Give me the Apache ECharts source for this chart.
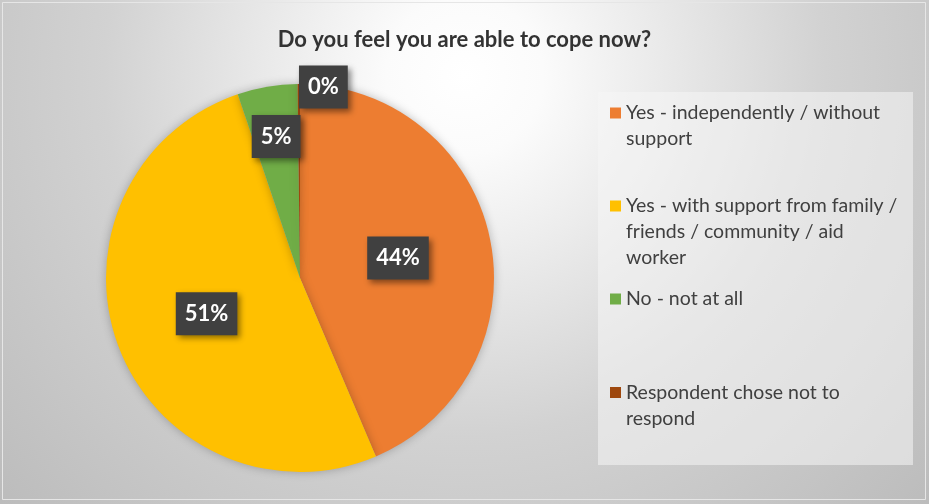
<!DOCTYPE html>
<html>
<head>
<meta charset="utf-8">
<script src="https://cdn.jsdelivr.net/npm/echarts@6/dist/echarts.min.js"></script>
<style>html,body{margin:0;padding:0;background:#fff}#c{width:929px;height:504px}</style>
</head>
<body>
<div id="c"></div>
<script>
var titleText = 'Do you feel you are able to cope now?';
var categories = [
  'Yes - independently / without support',
  'Yes - with support from family / friends / community / aid worker',
  'No - not at all',
  'Respondent chose not to respond'
];
// legend text broken into lines as in the reference
var legendLines = [
  ['Yes - independently / without', 'support'],
  ['Yes - with support from family /', 'friends / community / aid', 'worker'],
  ['No - not at all'],
  ['Respondent chose not to', 'respond']
];
var values = [43.6, 51.2, 5.0, 0.2];
var colors = ['#ED7D31', '#FFC000', '#70AD47', '#9E480E'];
// label nudges (px) for the two thin slices, as placed in the reference
var labelNudges = [[0, 0], [0, 0], [-7, -43], [24, -91]];
var legendFirstLineY = [113, 206, 299, 392.5];

var LH = 26;
var FONT = 'Lato, "Open Sans", sans-serif';

var chart = echarts.init(document.getElementById('c'));

var legends = categories.map(function (name, i) {
  var lines = legendLines[i];
  var n = lines.length;
  var total = 2 * n - 1;
  return {
    show: true,
    orient: 'vertical',
    left: 610,
    top: legendFirstLineY[i] - (total * LH) / 2,
    padding: 0,
    itemWidth: 11,
    itemHeight: 11,
    itemGap: 0,
    icon: 'rect',
    selectedMode: false,
    data: [name],
    formatter: function () {
      var pad = [];
      for (var k = 0; k < n - 1; k++) pad.push('');
      return pad.concat(lines).join('\n');
    },
    textStyle: {
      fontFamily: FONT,
      fontSize: 19.5,
      color: '#404040',
      lineHeight: LH
    }
  };
});

var option = {
  backgroundColor: {
    type: 'radial', x: 0.5, y: 0.15, r: 1.3,
    colorStops: [
      { offset: 0, color: '#ffffff' },
      { offset: 0.12, color: '#fbfbfb' },
      { offset: 0.55, color: '#d2d2d2' },
      { offset: 1, color: '#bababa' }
    ]
  },
  animation: false,
  title: {
    text: titleText,
    left: 'center',
    top: 24,
    textStyle: { fontFamily: FONT, fontSize: 22, fontWeight: 'bold', color: '#333333' }
  },
  graphic: [
    {
      type: 'rect', z: -1, silent: true,
      shape: { x: 598, y: 92, width: 315, height: 373 },
      style: { fill: 'rgba(245,245,245,0.55)' }
    },
    {
      type: 'rect', z: -1, silent: true,
      shape: { x: 2.5, y: 2.5, width: 923, height: 497 },
      style: { fill: 'none', stroke: '#e6e6e6', lineWidth: 1 }
    }
  ],
  legend: legends,
  series: [{
    type: 'pie',
    center: [300, 278],
    radius: 194,
    startAngle: 90,
    clockwise: true,
    percentPrecision: 0,
    avoidLabelOverlap: false,
    minAngle: 0,
    itemStyle: {
      borderWidth: 0,
      shadowBlur: 10,
      shadowColor: 'rgba(0,0,0,0.25)'
    },
    label: {
      show: true,
      position: 'inside',
      formatter: '{d}%',
      fontFamily: FONT,
      fontSize: 22,
      fontWeight: 'bold',
      color: '#ffffff',
      backgroundColor: '#404040',
      padding: [9, 9, 8, 9],
      lineHeight: 26,
      shadowBlur: 6,
      shadowOffsetX: 3,
      shadowOffsetY: 3,
      shadowColor: 'rgba(0,0,0,0.45)'
    },
    labelLine: { show: false },
    labelLayout: function (p) {
      var d = labelNudges[p.dataIndex];
      return { dx: d[0], dy: d[1] };
    },
    data: categories.map(function (c, i) {
      return { name: c, value: values[i], itemStyle: { color: colors[i] } };
    })
  }]
};
chart.setOption(option);
</script>
</body>
</html>
